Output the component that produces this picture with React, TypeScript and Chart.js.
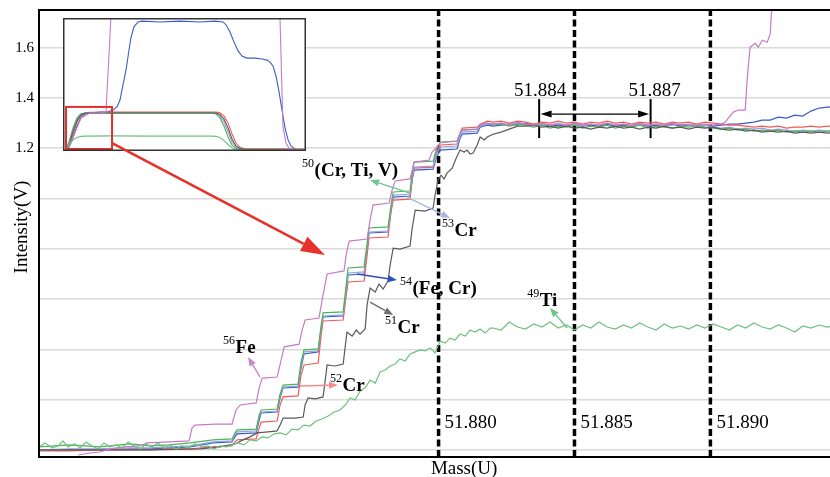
import React, { useEffect, useRef } from 'react';
import { Chart, registerables } from 'chart.js';

Chart.register(...registerables);

const SERIF = "'Liberation Serif', 'Times New Roman', Times, serif";

// ---------- main chart ranges ----------
const X_MIN = 51.8653;
const X_MAX = 51.8944;
const Y_MIN = -0.028;
const Y_MAX = 1.75;
const yGridValues = [0, 0.2, 0.4, 0.6, 0.8, 1.0, 1.2, 1.4, 1.6];

// ---------- shared mass grid for the plateau region ----------
const plateauMass = [51.8820, 51.8823, 51.8826, 51.8829, 51.8832, 51.8835, 51.8838, 51.8841, 51.8844, 51.8847, 51.8850, 51.8853, 51.8856, 51.8859, 51.8862, 51.8865, 51.8868, 51.8871, 51.8874, 51.8877, 51.8880, 51.8883, 51.8886, 51.8889, 51.8892, 51.8895, 51.8898, 51.8901, 51.8904, 51.8907, 51.8910, 51.8913, 51.8916, 51.8919, 51.8922, 51.8925, 51.8928, 51.8931, 51.8934, 51.8937, 51.8940, 51.8943, 51.8946];

// ---------- stair region mass for 50/53/54/52 traces ----------
const bundleMass = [51.86530, 51.86644, 51.86754, 51.86865, 51.86939, 51.87012, 51.87086, 51.87170, 51.87240, 51.87251, 51.87259, 51.87329, 51.87340, 51.87347, 51.87406, 51.87417, 51.87428, 51.87483, 51.87494, 51.87505, 51.87557, 51.87568, 51.87575, 51.87649, 51.87660, 51.87667, 51.87726, 51.87737, 51.87744, 51.87814, 51.87825, 51.87833, 51.87895, 51.87903, 51.87910, 51.87980, 51.87991, 51.88006, 51.88068, 51.88079, 51.88087, 51.88142, 51.88153, 51.88179];

const cr50Steps = [0.012, 0.020, 0.012, 0.024, 0.016, 0.020, 0.028, 0.040, 0.044, 0.068, 0.080, 0.083, 0.139, 0.159, 0.163, 0.223, 0.258, 0.262, 0.350, 0.398, 0.402, 0.497, 0.545, 0.549, 0.656, 0.724, 0.728, 0.823, 0.883, 0.887, 0.974, 1.026, 1.030, 1.105, 1.145, 1.149, 1.193, 1.225, 1.229, 1.260, 1.272, 1.276, 1.292, 1.300];
const cr53Steps = [0, 0.004, 0.004, 0.008, 0.008, 0.012, 0.016, 0.032, 0.036, 0.060, 0.072, 0.076, 0.131, 0.151, 0.155, 0.215, 0.250, 0.254, 0.338, 0.390, 0.394, 0.485, 0.533, 0.537, 0.636, 0.704, 0.708, 0.807, 0.867, 0.871, 0.962, 1.014, 1.018, 1.089, 1.125, 1.129, 1.173, 1.205, 1.209, 1.248, 1.264, 1.268, 1.288, 1.296];
const fe54Steps = [0, 0, 0, 0.004, 0.004, 0.008, 0.012, 0.028, 0.032, 0.052, 0.064, 0.068, 0.119, 0.147, 0.151, 0.207, 0.247, 0.250, 0.326, 0.382, 0.390, 0.477, 0.529, 0.533, 0.628, 0.696, 0.700, 0.795, 0.863, 0.867, 0.954, 1.006, 1.010, 1.074, 1.113, 1.117, 1.161, 1.193, 1.197, 1.240, 1.256, 1.260, 1.284, 1.292];
const cr52Steps = [-0.004, -0.004, 0, 0, 0, 0.004, 0.004, 0.012, 0.016, 0.032, 0.040, 0.044, 0.087, 0.111, 0.115, 0.179, 0.211, 0.215, 0.298, 0.338, 0.346, 0.457, 0.513, 0.517, 0.612, 0.668, 0.672, 0.775, 0.843, 0.847, 0.946, 0.994, 0.998, 1.081, 1.121, 1.125, 1.181, 1.213, 1.217, 1.260, 1.280, 1.284, 1.296, 1.308];

const cr50Plateau = [1.292, 1.296, 1.288, 1.296, 1.292, 1.284, 1.292, 1.280, 1.288, 1.284, 1.292, 1.280, 1.288, 1.284, 1.292, 1.280, 1.288, 1.284, 1.292, 1.280, 1.288, 1.284, 1.280, 1.288, 1.284, 1.292, 1.284, 1.280, 1.276, 1.280, 1.272, 1.276, 1.268, 1.272, 1.268, 1.272, 1.264, 1.268, 1.264, 1.268, 1.264, 1.268, 1.268];
const cr53Plateau = [1.296, 1.300, 1.292, 1.300, 1.296, 1.288, 1.296, 1.292, 1.300, 1.292, 1.296, 1.288, 1.296, 1.292, 1.300, 1.292, 1.296, 1.288, 1.296, 1.292, 1.296, 1.288, 1.292, 1.296, 1.292, 1.288, 1.292, 1.284, 1.280, 1.284, 1.276, 1.280, 1.276, 1.280, 1.272, 1.276, 1.272, 1.268, 1.272, 1.268, 1.272, 1.268, 1.268];
const fe54Plateau = [1.288, 1.292, 1.296, 1.292, 1.300, 1.292, 1.296, 1.288, 1.292, 1.288, 1.296, 1.288, 1.292, 1.288, 1.296, 1.288, 1.292, 1.288, 1.296, 1.288, 1.292, 1.288, 1.296, 1.288, 1.292, 1.288, 1.292, 1.288, 1.292, 1.296, 1.296, 1.300, 1.304, 1.312, 1.312, 1.324, 1.320, 1.332, 1.328, 1.348, 1.360, 1.364, 1.364];
const cr52Plateau = [1.304, 1.308, 1.300, 1.308, 1.304, 1.296, 1.304, 1.300, 1.308, 1.300, 1.304, 1.296, 1.304, 1.300, 1.308, 1.300, 1.304, 1.296, 1.304, 1.300, 1.304, 1.296, 1.304, 1.300, 1.304, 1.296, 1.304, 1.300, 1.296, 1.292, 1.292, 1.288, 1.284, 1.288, 1.284, 1.288, 1.280, 1.284, 1.284, 1.288, 1.284, 1.288, 1.288];

// ---------- 56Fe ----------
const fe56Mass = [51.86674, 51.86718, 51.86754, 51.86791, 51.86846, 51.86902, 51.86927, 51.87012, 51.87082, 51.87093, 51.87104, 51.87178, 51.87240, 51.87255, 51.87270, 51.87329, 51.87340, 51.87351, 51.87406, 51.87421, 51.87432, 51.87487, 51.87498, 51.87509, 51.87560, 51.87575, 51.87590, 51.87652, 51.87660, 51.87671, 51.87737, 51.87748, 51.87759, 51.87818, 51.87829, 51.87840, 51.87895, 51.87903, 51.87910, 51.87965, 51.87976, 51.87991, 51.88006, 51.88068, 51.88079, 51.88087, 51.88142, 51.88153, 51.88179];
const fe56Steps = [-0.020, -0.012, -0.008, 0.004, 0.012, 0.016, 0.028, 0.032, 0.036, 0.087, 0.099, 0.103, 0.103, 0.159, 0.179, 0.187, 0.247, 0.286, 0.290, 0.358, 0.410, 0.421, 0.477, 0.517, 0.525, 0.616, 0.700, 0.712, 0.775, 0.831, 0.839, 0.914, 0.974, 0.982, 1.034, 1.070, 1.078, 1.113, 1.145, 1.153, 1.185, 1.201, 1.221, 1.229, 1.260, 1.272, 1.276, 1.292, 1.300];
const fe56Plateau = [1.296, 1.300, 1.292, 1.304, 1.296, 1.292, 1.300, 1.292, 1.296, 1.292, 1.300, 1.292, 1.296, 1.292, 1.300, 1.292, 1.296, 1.292, 1.300, 1.292, 1.296, 1.292, 1.300, 1.292, 1.296, 1.292, 1.296, 1.292, 1.296];
const fe56TailMass = [51.89055, 51.89066, 51.89084, 51.89102, 51.89128, 51.89135, 51.89146, 51.89165, 51.89176, 51.89191, 51.89209, 51.89220, 51.89227, 51.89242];
const fe56Tail = [1.304, 1.320, 1.344, 1.352, 1.352, 1.471, 1.602, 1.618, 1.602, 1.630, 1.622, 1.654, 1.780, 1.950];

// ---------- 51Cr ----------
const cr51Mass = [51.86530, 51.86754, 51.86939, 51.87122, 51.87196, 51.87251, 51.87281, 51.87306, 51.87332, 51.87373, 51.87406, 51.87417, 51.87428, 51.87472, 51.87502, 51.87509, 51.87520, 51.87546, 51.87575, 51.87583, 51.87590, 51.87619, 51.87649, 51.87656, 51.87663, 51.87682, 51.87697, 51.87711, 51.87730, 51.87737, 51.87748, 51.87767, 51.87781, 51.87796, 51.87814, 51.87822, 51.87833, 51.87858, 51.87895, 51.87903, 51.87914, 51.87950, 51.87980, 51.87987, 51.87998, 51.88009, 51.88020, 51.88031, 51.88050, 51.88065, 51.88079, 51.88094, 51.88105, 51.88116, 51.88127, 51.88142, 51.88153, 51.88168, 51.88179];
const cr51Steps = [0, 0, 0, 0.004, 0.012, 0.024, 0.040, 0.052, 0.068, 0.072, 0.076, 0.099, 0.127, 0.127, 0.131, 0.179, 0.207, 0.203, 0.211, 0.278, 0.338, 0.334, 0.342, 0.406, 0.469, 0.453, 0.477, 0.461, 0.481, 0.577, 0.644, 0.628, 0.660, 0.640, 0.672, 0.736, 0.803, 0.799, 0.811, 0.883, 0.954, 0.950, 0.962, 1.014, 1.074, 1.093, 1.078, 1.101, 1.121, 1.161, 1.193, 1.185, 1.193, 1.177, 1.181, 1.213, 1.245, 1.233, 1.245];
const cr51Plateau = [1.256, 1.264, 1.276, 1.288, 1.288, 1.292, 1.284, 1.288, 1.280, 1.288, 1.280, 1.284, 1.276, 1.284, 1.280, 1.288, 1.280, 1.284, 1.276, 1.284, 1.280, 1.288, 1.280, 1.284, 1.276, 1.284, 1.280, 1.284, 1.276, 1.272, 1.276, 1.268, 1.272, 1.264, 1.268, 1.264, 1.268, 1.260, 1.264, 1.260, 1.264, 1.260, 1.264];

// ---------- 49Ti ----------
const ti49Mass = [51.86530, 51.86552, 51.86578, 51.86600, 51.86618, 51.86637, 51.86662, 51.86681, 51.86703, 51.86725, 51.86747, 51.86769, 51.86791, 51.86813, 51.86835, 51.86858, 51.86880, 51.86902, 51.86924, 51.86946, 51.86968, 51.86990, 51.87012, 51.87034, 51.87056, 51.87078, 51.87104, 51.87130, 51.87152, 51.87174, 51.87196, 51.87218, 51.87240, 51.87262, 51.87284, 51.87306, 51.87329, 51.87351, 51.87373, 51.87395, 51.87417, 51.87439, 51.87461, 51.87483, 51.87505, 51.87527, 51.87549, 51.87571, 51.87594, 51.87616, 51.87638, 51.87660, 51.87674, 51.87693, 51.87711, 51.87730, 51.87748, 51.87767, 51.87785, 51.87803, 51.87822, 51.87840, 51.87858, 51.87877, 51.87895, 51.87914, 51.87932, 51.87950, 51.87969, 51.87987, 51.87998, 51.88006, 51.88024, 51.88042, 51.88061, 51.88079, 51.88098, 51.88116, 51.88134, 51.88153, 51.88171, 51.88190];
const ti49Steps = [0.012, 0.028, 0.008, 0.016, 0.036, 0.012, 0.024, 0.008, 0.032, 0.016, 0.004, 0.028, 0.012, 0.020, 0.008, 0.032, 0.016, 0.004, 0.024, 0.012, 0.028, 0.008, 0.020, 0.004, 0.016, 0.008, 0.024, 0.012, 0.016, 0.004, 0.016, 0.012, 0.020, 0.028, 0.020, 0.040, 0.036, 0.052, 0.048, 0.064, 0.068, 0.060, 0.083, 0.080, 0.099, 0.095, 0.115, 0.123, 0.135, 0.151, 0.159, 0.183, 0.207, 0.199, 0.235, 0.247, 0.278, 0.266, 0.310, 0.318, 0.334, 0.342, 0.362, 0.354, 0.382, 0.390, 0.398, 0.394, 0.406, 0.386, 0.414, 0.433, 0.425, 0.445, 0.437, 0.461, 0.453, 0.477, 0.469, 0.481, 0.465, 0.485];
const ti49Plateau = [0.485, 0.477, 0.509, 0.489, 0.481, 0.501, 0.489, 0.509, 0.485, 0.497, 0.477, 0.497, 0.485, 0.509, 0.489, 0.481, 0.497, 0.485, 0.505, 0.489, 0.477, 0.501, 0.485, 0.493, 0.481, 0.497, 0.485, 0.501, 0.489, 0.477, 0.497, 0.485, 0.505, 0.489, 0.481, 0.497, 0.485, 0.469, 0.493, 0.485, 0.497, 0.489, 0.493];

// ---------- marker lines / labels ----------
const dashMasses = [51.880, 51.885, 51.890];
const markerMasses = [51.8837, 51.8878];
const markerLabels = ['51.884', '51.887'];
const markerRange = [1.2405, 1.3956];

// ---------- inset (full scan) ----------
const INSET_X_MIN = 51.862;
const INSET_X_MAX = 52.0151;
const INSET_Y_MIN = -0.035;
const INSET_Y_MAX = 4.567;
const insetBlueMass = [51.8633, 51.8658, 51.8683, 51.8708, 51.8733, 51.8759, 51.8790, 51.8853, 51.8897, 51.8935, 51.8960, 51.8979, 51.8998, 51.9017, 51.9036, 51.9048, 51.9067, 51.9093, 51.9118, 51.9231, 51.9357, 51.9483, 51.9578, 51.9628, 51.9647, 51.9672, 51.9697, 51.9723, 51.9748, 51.9779, 51.9830, 51.9874, 51.9905, 51.9924, 51.9943, 51.9962, 51.9981, 52.0000, 52.0019, 52.0038, 52.0056, 52.0082, 52.0113, 52.0151];
const insetBlue = [0, 0.10, 0.42, 0.83, 1.11, 1.25, 1.28, 1.31, 1.31, 1.38, 1.49, 1.73, 2.25, 2.77, 3.46, 3.88, 4.26, 4.43, 4.46, 4.43, 4.46, 4.43, 4.46, 4.43, 4.33, 4.08, 3.74, 3.43, 3.25, 3.18, 3.18, 3.15, 3.11, 3.04, 2.91, 2.56, 2.01, 1.38, 0.76, 0.35, 0.14, 0.03, 0, 0];
const insetMass = [51.8633, 51.8658, 51.8683, 51.8708, 51.8733, 51.8759, 51.8790, 51.8916, 51.9168, 51.9483, 51.9559, 51.9584, 51.9609, 51.9634, 51.9660, 51.9685, 51.9710, 51.9735, 51.9760, 51.9798, 51.9924, 52.0151];
const insetGreen = [0, 0.28, 0.76, 1.11, 1.25, 1.28, 1.28, 1.28, 1.28, 1.28, 1.28, 1.25, 1.11, 0.83, 0.45, 0.17, 0.05, 0.01, 0, 0, 0, 0];
const insetLightBlue = [0, 0.21, 0.66, 1.04, 1.21, 1.28, 1.28, 1.28, 1.28, 1.28, 1.28, 1.27, 1.18, 0.97, 0.62, 0.28, 0.10, 0.03, 0.01, 0, 0, 0];
const insetBlack = [0, 0.17, 0.62, 1.00, 1.21, 1.28, 1.28, 1.28, 1.28, 1.28, 1.28, 1.28, 1.23, 1.07, 0.76, 0.38, 0.14, 0.05, 0.03, 0.02, 0.02, 0.02];
const insetRed = [0, 0.14, 0.55, 0.97, 1.18, 1.28, 1.30, 1.31, 1.31, 1.31, 1.31, 1.31, 1.29, 1.18, 0.93, 0.55, 0.24, 0.09, 0.05, 0.04, 0.04, 0.03];
const insetTi = [0, 0.14, 0.35, 0.43, 0.47, 0.48, 0.48, 0.49, 0.48, 0.48, 0.48, 0.47, 0.43, 0.33, 0.19, 0.07, 0.02, 0, 0, 0, 0, 0];
const insetFeMass = [51.8633, 51.8683, 51.8733, 51.8790, 51.8853, 51.8891, 51.8922, 51.8935, 51.9975, 51.9987, 52.0006, 52.0025, 52.0044, 52.0069, 52.0151];
const insetFe = [0, 0.42, 1.11, 1.28, 1.28, 1.31, 4.6, 6.0, 6.0, 4.6, 0.80, 0.24, 0.07, 0, 0];
const zoomBox = { x0: 51.8639, x1: 51.8929, y0: 0.035, y1: 1.49 };

// ---------- styling ----------
const C = {
  fe56: '#c77ac9',
  fe54: '#3a5cc8',
  cr53: '#93a4df',
  cr52: '#f25a5a',
  cr50: '#4fb257',
  cr51: '#5a5a5a',
  ti49: '#6cc27c',
};
const INSET_BOX = { left: 63, top: 18, width: 243, height: 133 };

// annotations: label anchor (mass, V), arrow from -> to (mass, V)
const notes = [
  { sup: '56', text: 'Fe', at: [51.87207, 0.4095], from: [51.87343, 0.2902], to: [51.87299, 0.3698], color: '#c785c9' },
  { sup: '52', text: 'Cr', at: [51.87601, 0.2584], from: [51.87490, 0.2545], to: [51.87630, 0.2584], color: '#f48c8c' },
  { sup: '54', text: '(Fe, Cr)', at: [51.87858, 0.6460], from: [51.87700, 0.6998], to: [51.87847, 0.6759], color: '#2f4fc0' },
  { sup: '51', text: 'Cr', at: [51.87803, 0.4890], from: [51.87748, 0.5884], to: [51.87833, 0.5368], color: '#6e6e6e' },
  { sup: '53', text: 'Cr', at: [51.88013, 0.8747], from: [51.87884, 1.0059], to: [51.88042, 0.9224], color: '#a9b6e6' },
  { sup: '50', text: '(Cr, Ti, V)', at: [51.87498, 1.1130], from: [51.87895, 1.0218], to: [51.87748, 1.0735], color: '#6ec493' },
  { sup: '49', text: 'Ti', at: [51.88326, 0.5964], from: [51.88473, 0.4851], to: [51.88410, 0.5646], color: '#6cc487' },
];
const bigArrow = { from: [51.86799, 1.2206], to: [51.87582, 0.7753] };

const zip = (xs: number[], ys: number[]) => xs.map((x, i) => ({ x, y: ys[i] }));

const line = (label: string, color: string, data: any[], width = 1.2) => ({
  label,
  data,
  borderColor: color,
  backgroundColor: color,
  borderWidth: width,
  pointRadius: 0,
  tension: 0,
  fill: false,
});

function drawArrow(ctx: CanvasRenderingContext2D, x1: number, y1: number, x2: number, y2: number, color: string, lw: number, hl: number, hw: number) {
  const ang = Math.atan2(y2 - y1, x2 - x1);
  const bx = x2 - hl * Math.cos(ang);
  const by = y2 - hl * Math.sin(ang);
  ctx.strokeStyle = color;
  ctx.fillStyle = color;
  ctx.lineWidth = lw;
  ctx.beginPath();
  ctx.moveTo(x1, y1);
  ctx.lineTo(bx, by);
  ctx.stroke();
  ctx.beginPath();
  ctx.moveTo(x2, y2);
  ctx.lineTo(bx + (hw / 2) * Math.sin(ang), by - (hw / 2) * Math.cos(ang));
  ctx.lineTo(bx - (hw / 2) * Math.sin(ang), by + (hw / 2) * Math.cos(ang));
  ctx.closePath();
  ctx.fill();
}

const mainDecor = {
  id: 'mainDecor',
  afterDatasetsDraw(chart: any) {
    const { ctx, chartArea: a, scales } = chart;
    const X = (m: number) => scales.x.getPixelForValue(m);
    const Y = (v: number) => scales.y.getPixelForValue(v);
    ctx.save();
    // window for the inset canvas underneath
    ctx.clearRect(INSET_BOX.left, INSET_BOX.top, INSET_BOX.width, INSET_BOX.height);

    // frame
    ctx.strokeStyle = '#000';
    ctx.lineWidth = 2;
    ctx.beginPath();
    ctx.moveTo(a.right, a.top);
    ctx.lineTo(a.left, a.top);
    ctx.lineTo(a.left, a.bottom);
    ctx.lineTo(a.right, a.bottom);
    ctx.stroke();

    ctx.fillStyle = '#000';
    // axis titles
    ctx.font = `19px ${SERIF}`;
    ctx.textAlign = 'center';
    ctx.textBaseline = 'alphabetic';
    ctx.fillText('Mass(U)', X(51.88094), a.bottom + 17);
    ctx.save();
    ctx.translate(27, 227);
    ctx.rotate(-Math.PI / 2);
    ctx.fillText('Intensity(V)', 0, 0);
    ctx.restore();

    // dashed line labels
    ctx.textAlign = 'left';
    dashMasses.forEach((m) => {
      ctx.fillText(m.toFixed(3), X(m) + 6, Y(0.1113) + 6);
    });

    // resolution markers
    ctx.textAlign = 'center';
    ctx.fillText(markerLabels[0], X(markerMasses[0]) + 1, Y(1.4314) + 6);
    ctx.fillText(markerLabels[1], X(markerMasses[1]) + 4, Y(1.4314) + 6);
    const ay = Y(1.3359);
    const xa = X(markerMasses[0]) + 1.5;
    const xb = X(markerMasses[1]) - 1.5;
    const mid = (xa + xb) / 2;
    drawArrow(ctx, mid, ay, xa, ay, '#000', 1.4, 11, 7);
    drawArrow(ctx, mid, ay, xb, ay, '#000', 1.4, 11, 7);

    // isotope annotations
    notes.forEach((n) => {
      drawArrow(ctx, X(n.from[0]), Y(n.from[1]), X(n.to[0]), Y(n.to[1]), n.color, 1.4, 9, 7);
    });
    ctx.textAlign = 'left';
    ctx.fillStyle = '#000';
    notes.forEach((n) => {
      const lx = X(n.at[0]);
      const cy = Y(n.at[1]);
      ctx.font = `12px ${SERIF}`;
      ctx.fillText(n.sup, lx, cy - 3);
      const sw = ctx.measureText(n.sup).width;
      ctx.font = `bold 19px ${SERIF}`;
      ctx.fillText(n.text, lx + sw + 0.5, cy + 6);
    });

    // zoom arrow from inset
    drawArrow(ctx, X(bigArrow.from[0]), Y(bigArrow.from[1]), X(bigArrow.to[0]), Y(bigArrow.to[1]), '#e5322a', 2.6, 24, 16);
    ctx.restore();
  },
};

const insetDecor = {
  id: 'insetDecor',
  beforeDraw(chart: any) {
    const { ctx, width, height } = chart;
    ctx.save();
    ctx.fillStyle = '#fff';
    ctx.fillRect(0, 0, width, height);
    ctx.restore();
  },
  afterDraw(chart: any) {
    const { ctx, width, height, scales } = chart;
    const X = (m: number) => scales.x.getPixelForValue(m);
    const Y = (v: number) => scales.y.getPixelForValue(v);
    ctx.save();
    ctx.strokeStyle = '#e0302c';
    ctx.lineWidth = 2;
    ctx.strokeRect(X(zoomBox.x0), Y(zoomBox.y1), X(zoomBox.x1) - X(zoomBox.x0), Y(zoomBox.y0) - Y(zoomBox.y1));
    ctx.strokeStyle = '#333';
    ctx.lineWidth = 1.5;
    ctx.strokeRect(0.75, 0.75, width - 1.5, height - 1.5);
    ctx.restore();
  },
};

export default function App() {
  const mainRef = useRef<HTMLCanvasElement>(null);
  const insetRef = useRef<HTMLCanvasElement>(null);

  useEffect(() => {
    const plateau = (vals: number[]) => zip(plateauMass.slice(0, vals.length), vals);

    const datasets: any[] = [
      line('49Ti', C.ti49, [...zip(ti49Mass, ti49Steps), ...plateau(ti49Plateau)]),
      line('56Fe', C.fe56, [...zip(fe56Mass, fe56Steps), ...plateau(fe56Plateau), ...zip(fe56TailMass, fe56Tail)]),
      line('51Cr', C.cr51, [...zip(cr51Mass, cr51Steps), ...plateau(cr51Plateau)]),
      line('50(Cr, Ti, V)', C.cr50, [...zip(bundleMass, cr50Steps), ...plateau(cr50Plateau)]),
      line('53Cr', C.cr53, [...zip(bundleMass, cr53Steps), ...plateau(cr53Plateau)]),
      line('52Cr', C.cr52, [...zip(bundleMass, cr52Steps), ...plateau(cr52Plateau)]),
      line('54(Fe, Cr)', C.fe54, [...zip(bundleMass, fe54Steps), ...plateau(fe54Plateau)]),
      ...dashMasses.map((m) => ({
        ...line('dash', '#000', [{ x: m, y: Y_MIN }, { x: m, y: Y_MAX }], 3.5),
        borderDash: [7, 3.5],
      })),
      ...markerMasses.map((m) => line('marker', '#000', [{ x: m, y: markerRange[0] }, { x: m, y: markerRange[1] }], 2)),
    ];

    const main = new Chart(mainRef.current as HTMLCanvasElement, {
      type: 'line',
      data: { datasets },
      options: {
        animation: false,
        responsive: false,
        devicePixelRatio: 1,
        layout: { padding: { top: 10, left: 0, right: 0, bottom: 0 } },
        plugins: { legend: { display: false }, tooltip: { enabled: false } },
        scales: {
          x: {
            type: 'linear',
            min: X_MIN,
            max: X_MAX,
            afterFit: (s: any) => {
              s.height = 20;
              s.paddingLeft = 0;
              s.paddingRight = 0;
            },
            grid: { display: false },
            border: { display: false },
            ticks: { display: false },
          },
          y: {
            type: 'linear',
            min: Y_MIN,
            max: Y_MAX,
            afterBuildTicks: (s: any) => { s.ticks = yGridValues.map((v) => ({ value: v })); },
            afterFit: (s: any) => {
              s.width = 39;
              s.paddingTop = 0;
              s.paddingBottom = 0;
            },
            grid: { color: '#dadada', lineWidth: 1.6, drawTicks: false },
            border: { display: false },
            ticks: {
              padding: 5,
              color: '#000',
              font: { family: SERIF, size: 15 },
              callback: (v: any) => (Number(v) >= 1.19 ? Number(v).toFixed(1) : ''),
            },
          },
        },
      } as any,
      plugins: [mainDecor],
    });

    const insetDatasets: any[] = [
      line('49Ti', C.ti49, zip(insetMass, insetTi), 1.1),
      line('56Fe', C.fe56, zip(insetFeMass, insetFe), 1.1),
      line('51Cr', C.cr51, zip(insetMass, insetBlack), 1.1),
      line('50', C.cr50, zip(insetMass, insetGreen), 1.1),
      line('53Cr', C.cr53, zip(insetMass, insetLightBlue), 1.1),
      line('52Cr', C.cr52, zip(insetMass, insetRed), 1.1),
      line('54', C.fe54, zip(insetBlueMass, insetBlue), 1.1),
    ];

    const inset = new Chart(insetRef.current as HTMLCanvasElement, {
      type: 'line',
      data: { datasets: insetDatasets },
      options: {
        animation: false,
        responsive: false,
        devicePixelRatio: 1,
        layout: { padding: 0 },
        plugins: { legend: { display: false }, tooltip: { enabled: false } },
        scales: {
          x: { type: 'linear', display: false, min: INSET_X_MIN, max: INSET_X_MAX },
          y: { type: 'linear', display: false, min: INSET_Y_MIN, max: INSET_Y_MAX },
        },
      } as any,
      plugins: [insetDecor],
    });

    return () => {
      main.destroy();
      inset.destroy();
    };
  }, []);

  return (
    <div style={{ position: 'fixed', left: 0, top: 0, width: 830, height: 477, background: '#fff' }}>
      <canvas
        ref={insetRef}
        width={INSET_BOX.width}
        height={INSET_BOX.height}
        style={{ position: 'absolute', left: INSET_BOX.left, top: INSET_BOX.top, zIndex: 0 }}
      />
      <canvas
        ref={mainRef}
        width={830}
        height={477}
        style={{ position: 'absolute', left: 0, top: 0, zIndex: 1 }}
      />
    </div>
  );
}
